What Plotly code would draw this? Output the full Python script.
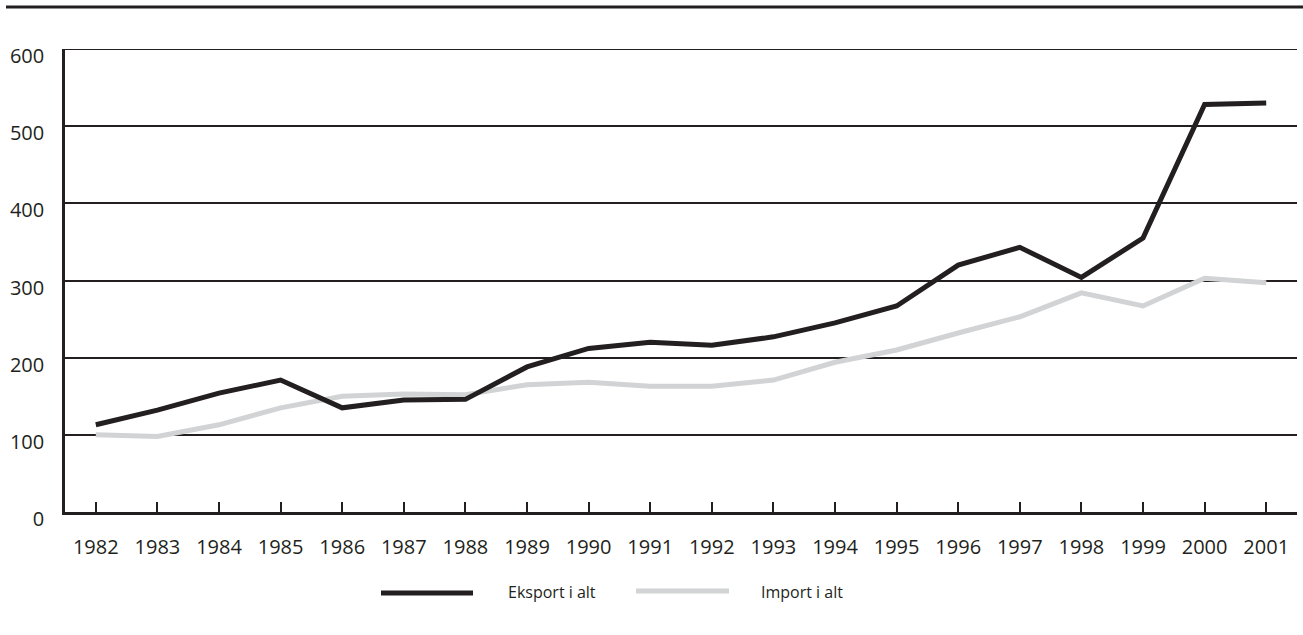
import plotly.graph_objects as go

years = [str(y) for y in range(1982, 2002)]
eksport = [113, 132, 154, 171, 135, 145, 146, 188, 212, 220, 216, 227, 245, 267, 320, 343, 304, 355, 528, 530]
import_ = [100, 98, 113, 135, 150, 153, 152, 165, 168, 163, 163, 171, 194, 210, 232, 253, 284, 267, 303, 297]
y_ticks = [0, 100, 200, 300, 400, 500, 600]

DARK = "#231f20"
GREY = "#d1d3d4"
FONT = "Open Sans"

fig = go.Figure()
fig.add_trace(go.Scatter(x=years, y=import_, mode="lines", name="Import i alt",
                         line=dict(color=GREY, width=5), showlegend=False))
fig.add_trace(go.Scatter(x=years, y=eksport, mode="lines", name="Eksport i alt",
                         line=dict(color=DARK, width=5), showlegend=False))

W, H = 1303, 635
ml, mr, mt, mb = 65, 6, 49, 123

fig.update_layout(
    width=W, height=H,
    margin=dict(l=ml, r=mr, t=mt, b=mb, pad=0),
    paper_bgcolor="white", plot_bgcolor="white",
    font=dict(family=FONT, color=DARK, size=20),
    xaxis=dict(type="category", range=[-0.5, 19.5], showgrid=False,
               showline=True, linecolor=DARK, linewidth=2.5,
               ticks="inside", ticklen=10, tickwidth=2, tickcolor=DARK,
               tickfont=dict(size=20, family=FONT, color=DARK),
               ticklabelstandoff=15, zeroline=False),
    yaxis=dict(range=[0, 600], tickvals=y_ticks, showgrid=True,
               gridcolor=DARK, gridwidth=2, showline=True, linecolor=DARK,
               linewidth=2.5, ticks="", zeroline=False,
               tickfont=dict(size=20, family=FONT, color=DARK),
               ticklabelshift=7, ticklabelstandoff=14),
)

def px_x(px):
    return (px - ml) / (W - ml - mr)

def px_y(py):
    return (H - mb - py) / (H - mt - mb)

# top rule
fig.add_shape(type="line", xref="paper", yref="paper", x0=px_x(6), x1=px_x(1303),
              y0=px_y(7), y1=px_y(7), line=dict(color=DARK, width=3))

# gridline at the top edge (600)
fig.add_shape(type="line", xref="paper", yref="y", x0=0, x1=1, y0=600, y1=600,
              line=dict(color=DARK, width=2), layer="above")

# custom legend
fig.add_shape(type="line", xref="paper", yref="paper", x0=px_x(381), x1=px_x(473),
              y0=px_y(593), y1=px_y(593), line=dict(color=DARK, width=5))
fig.add_shape(type="line", xref="paper", yref="paper", x0=px_x(636), x1=px_x(729),
              y0=px_y(591), y1=px_y(591), line=dict(color=GREY, width=5))
fig.add_annotation(xref="paper", yref="paper", x=px_x(506), y=px_y(592),
                   text="Eksport i alt", showarrow=False, xanchor="left", yanchor="middle",
                   font=dict(size=16, family=FONT, color=DARK))
fig.add_annotation(xref="paper", yref="paper", x=px_x(759), y=px_y(592),
                   text="Import i alt", showarrow=False, xanchor="left", yanchor="middle",
                   font=dict(size=16, family=FONT, color=DARK))

fig.write_html("out.html", config={"displayModeBar": False},
               post_script="document.body.style.margin='0';")
